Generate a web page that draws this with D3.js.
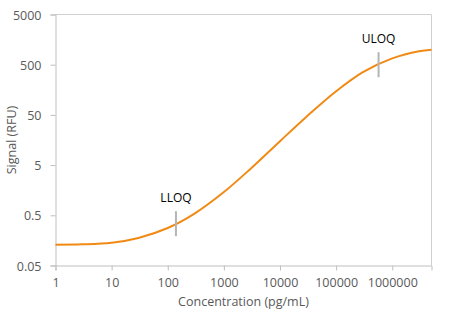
<!DOCTYPE html>
<html>
<head>
<meta charset="utf-8">
<script src="https://cdn.jsdelivr.net/npm/d3@7"></script>
<style>
  body { margin: 0; background: #fff; }
  text { font-family: "Open Sans", sans-serif; }
</style>
</head>
<body>
<div id="viz"></div>
<script>
// values
var concentration = [1, 3, 10, 30, 100, 300, 1000, 3000, 10000, 30000, 100000, 300000, 1000000, 3000000, 5000000];
var signal = [0.130, 0.132, 0.142, 0.177, 0.279, 0.54, 1.45, 4.25, 15.0, 46.6, 148, 356, 667, 927, 995];

var xTicks = [1, 10, 100, 1000, 10000, 100000, 1000000];
var yTicks = [0.05, 0.5, 5, 50, 500, 5000];

var limitNames = ["LLOQ", "ULOQ"];
var limitConc = [140, 570000];
var limitSignal = [0.34, 500];

var W = 466, H = 325;
var plotL = 55.5, plotR = 431.5, plotT = 14.5, plotB = 265.5;

var svg = d3.select("#viz")
    .append("svg")
    .attr("width", W)
    .attr("height", H);

var x = d3.scaleLog().domain([1, 5000000]).range([plotL, plotR]);
var y = d3.scaleLog().domain([0.05, 5000]).range([plotB, plotT]);

// plot box (top and right)
svg.append("path")
    .attr("d", "M" + plotL + "," + plotT + "H" + plotR + "V" + plotB)
    .attr("fill", "none")
    .attr("stroke", "#d0d0d0")
    .attr("stroke-width", 1);

var xAxis = svg.append("g")
    .attr("transform", "translate(0," + plotB + ")")
    .call(d3.axisBottom(x).tickValues(xTicks).tickFormat(d3.format("d")).tickSizeOuter(0).tickSize(5).tickPadding(8));

var yAxis = svg.append("g")
    .attr("transform", "translate(" + plotL + ",0)")
    .call(d3.axisLeft(y).tickValues(yTicks).tickFormat(function(d){ return String(d); }).tickSizeOuter(0).tickSize(5).tickPadding(9));

[xAxis, yAxis].forEach(function(g){
    g.select(".domain").attr("stroke", "#bfbfbf");
    g.selectAll(".tick line").attr("stroke", "#bfbfbf");
    g.selectAll(".tick text")
        .attr("fill", "#595959")
        .style("font-size", "12.5px")
        .style("font-family", "'Open Sans', sans-serif");
});
yAxis.selectAll(".tick text").attr("dy", "0.36em");

// axis titles
svg.append("text")
    .attr("x", (plotL + plotR) / 2)
    .attr("y", 306)
    .attr("text-anchor", "middle")
    .attr("fill", "#595959")
    .style("font-size", "12.5px")
    .text("Concentration (pg/mL)");

svg.append("text")
    .attr("transform", "translate(16," + (plotT + plotB) / 2 + ") rotate(-90)")
    .attr("text-anchor", "middle")
    .attr("fill", "#595959")
    .style("font-size", "12.5px")
    .text("Signal (RFU)");

// curve
var pts = concentration.map(function(c, i){ return [c, signal[i]]; });
var line = d3.line()
    .x(function(d){ return x(d[0]); })
    .y(function(d){ return y(d[1]); })
    .curve(d3.curveCatmullRom.alpha(0.5));

svg.append("path")
    .datum(pts)
    .attr("d", line)
    .attr("fill", "none")
    .attr("stroke", "#f18a15")
    .attr("stroke-width", 2);

// limit markers
var marks = svg.selectAll("g.limit")
    .data(limitNames)
    .enter()
    .append("g")
    .attr("class", "limit")
    .attr("transform", function(d, i){
        return "translate(" + x(limitConc[i]) + "," + y(limitSignal[i]) + ")";
    });
marks.append("line")
    .attr("y1", -12.5)
    .attr("y2", 12.5)
    .attr("stroke", "#b5b5b5")
    .attr("stroke-width", 2);
marks.append("text")
    .attr("y", -22)
    .attr("text-anchor", "middle")
    .attr("fill", "#000")
    .style("font-size", "12px")
    .text(function(d){ return d; });
</script>
</body>
</html>
